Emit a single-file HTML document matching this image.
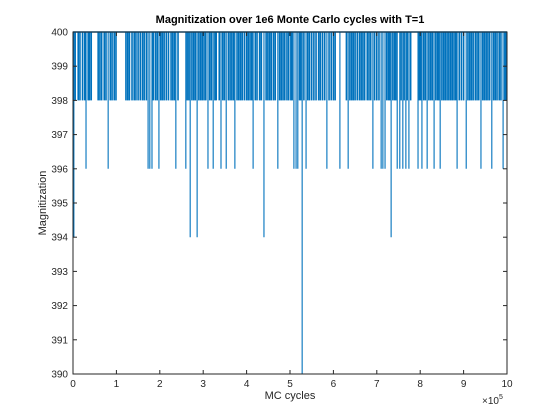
<!DOCTYPE html>
<html><head><meta charset="utf-8"><style>
body{margin:0;background:#fff}
svg{display:block;font-family:"Liberation Sans",sans-serif}
</style></head><body>
<svg id="chart" width="560" height="420">
<rect width="560" height="420" fill="#fff"/>
<g id="marks"></g>
<g id="axes"></g>
<text x="290" y="23" text-anchor="middle" font-size="11" font-weight="bold" fill="#000">Magnitization over 1e6 Monte Carlo cycles with T=1</text>
<text x="290" y="399" text-anchor="middle" font-size="11" fill="#262626">MC cycles</text>
<text transform="translate(46,203) rotate(-90)" text-anchor="middle" font-size="11" fill="#262626">Magnitization</text>
<text x="482" y="404" font-size="10" fill="#262626">×10<tspan dy="-5" font-size="7">5</tspan></text>
</svg>
<script>
const xTicks=[0,1,2,3,4,5,6,7,8,9,10];
const yTicks=[390,391,392,393,394,395,396,397,398,399,400];
const drops398=[0.05,0.12,0.16,0.22,0.27,0.35,0.38,0.42,0.58,0.62,0.66,0.72,0.76,0.86,0.9,0.95,0.99,1.22,1.26,1.3,1.36,1.41,1.45,1.5,1.55,1.6,1.64,1.69,1.85,1.9,1.94,2.02,2.06,2.1,2.15,2.2,2.26,2.3,2.34,2.42,2.63,2.67,2.74,2.78,2.82,2.9,2.94,2.98,3.02,3.06,3.15,3.19,3.27,3.3,3.37,3.45,3.49,3.58,3.62,3.66,3.7,3.78,3.82,3.86,3.9,3.95,4.0,4.04,4.08,4.12,4.2,4.24,4.3,4.34,4.45,4.49,4.53,4.57,4.62,4.66,4.76,4.8,4.84,4.88,4.93,4.97,5.02,5.05,5.22,5.25,5.32,5.41,5.45,5.5,5.55,5.6,5.66,5.7,5.75,5.8,5.9,5.95,6.0,6.04,6.3,6.38,6.42,6.46,6.5,6.55,6.6,6.64,6.68,6.72,6.78,6.82,6.86,6.95,7.0,7.05,7.23,7.27,7.3,7.37,7.41,7.44,7.56,7.63,7.7,7.78,7.98,8.01,8.08,8.12,8.2,8.24,8.28,8.36,8.4,8.43,8.5,8.54,8.58,8.62,8.66,8.7,8.74,8.78,8.82,8.9,8.95,9.0,9.1,9.14,9.18,9.22,9.27,9.31,9.35,9.44,9.48,9.52,9.56,9.6,9.69,9.73,9.77,9.82,9.86,9.95,9.98];
const drops396=[0.3,0.81,1.73,1.77,1.82,1.98,2.37,2.6,3.11,3.23,3.41,3.53,3.73,4.15,4.72,5.09,5.14,5.18,5.37,5.85,6.15,6.34,6.91,7.1,7.14,7.19,7.47,7.53,7.6,7.67,7.74,7.95,8.04,8.16,8.32,8.46,8.85,9.06,9.4,9.65,9.91];
const drops394=[0.02,2.7,2.86,4.4,7.33];
const drops390=[5.28];
const L=73,R=507,T=32,B=374;
const xs=v=>L+(v/10)*(R-L);
const ys=v=>B-(v-390)/10*(B-T);
const NS="http://www.w3.org/2000/svg";
const marks=document.getElementById('marks');
const axes=document.getElementById('axes');
function line(p,x1,y1,x2,y2,c,w){const l=document.createElementNS(NS,'line');l.setAttribute('x1',x1);l.setAttribute('y1',y1);l.setAttribute('x2',x2);l.setAttribute('y2',y2);l.setAttribute('stroke',c);l.setAttribute('stroke-width',w);p.appendChild(l);return l;}
function addDrops(arr,val,w){arr.forEach(v=>{const l=line(marks,xs(v),ys(400),xs(v),ys(val),'#0072BD',w);

});}
const baseLine=line(marks,L,ys(400),R,ys(400),'#0072BD',1.5);


addDrops(drops398,398,1.6);addDrops(drops396,396,1.1);addDrops(drops394,394,1.1);addDrops(drops390,390,1.1);
const box=document.createElementNS(NS,'rect');
box.setAttribute('x',L);box.setAttribute('y',T);box.setAttribute('width',R-L);box.setAttribute('height',B-T);box.setAttribute('fill','none');box.setAttribute('stroke','#262626');box.setAttribute('stroke-width','1');


axes.appendChild(box);
xTicks.forEach(t=>{const x=xs(t);line(axes,x,B,x,B-4,'#262626',1);line(axes,x,T,x,T+4,'#262626',1);
const tx=document.createElementNS(NS,'text');tx.setAttribute('x',x);tx.setAttribute('y',B+13);tx.setAttribute('text-anchor','middle');tx.setAttribute('font-size','10');tx.setAttribute('fill','#262626');tx.textContent=t;


axes.appendChild(tx);});
yTicks.forEach(t=>{const y=ys(t);line(axes,L,y,L+4,y,'#262626',1);line(axes,R,y,R-4,y,'#262626',1);
const tx=document.createElementNS(NS,'text');tx.setAttribute('x',L-5);tx.setAttribute('y',y+3.5);tx.setAttribute('text-anchor','end');tx.setAttribute('font-size','10');tx.setAttribute('fill','#262626');tx.textContent=t;


axes.appendChild(tx);});
</script>
</body></html>
